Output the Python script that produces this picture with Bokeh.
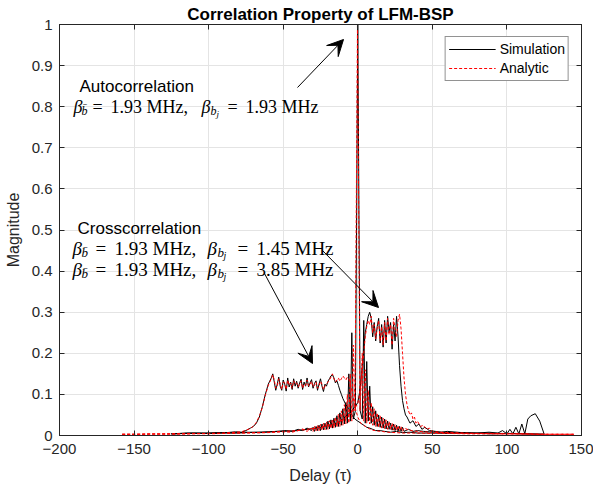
from bokeh.plotting import figure
from bokeh.models import (Range1d, FixedTicker, LinearAxis, Label, Arrow, VeeHead,
                          Legend, LegendItem)
from bokeh.embed import file_html
from bokeh.resources import INLINE

# ---------------- data ----------------
x_ticks = [-200, -150, -100, -50, 0, 50, 100, 150]
y_ticks = [0, 0.1, 0.2, 0.3, 0.4, 0.5, 0.6, 0.7, 0.8, 0.9, 1]
y_tick_labels = ["0", "0.1", "0.2", "0.3", "0.4", "0.5", "0.6", "0.7", "0.8", "0.9", "1"]

# Autocorrelation (b = 1.93 MHz, bj = 1.93 MHz)
ac_sim_tau = [-125, -115, -105, -95, -85, -75, -65, -55, -48, -44,
              -40, -37, -34, -31, -30, -29, -28, -27, -26, -25,
              -24, -23, -22, -21, -20, -19, -18, -17, -16, -15,
              -14, -13, -12, -11, -10, -9, -8, -7, -6, -5,
              -4, -3, -1.6, 0, 1.6, 3, 4, 5, 6, 7,
              8, 9, 10, 11, 12, 13, 14, 15, 16, 17,
              18, 19, 20, 21, 22, 23, 24, 25, 26, 27,
              28, 29, 30, 31, 34, 37, 40, 44, 48, 55,
              65, 75, 85, 95, 105, 115, 125]
ac_sim_val = [0.004, 0.006, 0.005, 0.007, 0.006, 0.008, 0.007, 0.010, 0.012, 0.010,
              0.015, 0.012, 0.018, 0.012, 0.020, 0.010, 0.022, 0.012, 0.025, 0.012,
              0.028, 0.014, 0.030, 0.015, 0.035, 0.016, 0.038, 0.018, 0.042, 0.020,
              0.048, 0.022, 0.055, 0.025, 0.065, 0.028, 0.080, 0.030, 0.150, 0.035,
              0.250, 0.040, 0.060, 1.000, 0.060, 0.040, 0.280, 0.030, 0.180, 0.035,
              0.120, 0.030, 0.070, 0.025, 0.060, 0.022, 0.050, 0.020, 0.045, 0.018,
              0.040, 0.016, 0.035, 0.015, 0.030, 0.013, 0.028, 0.012, 0.025, 0.011,
              0.022, 0.010, 0.020, 0.010, 0.015, 0.010, 0.012, 0.010, 0.009, 0.008,
              0.007, 0.006, 0.006, 0.005, 0.005, 0.004, 0.003]
ac_ana_tau = [-158, -150, -140, -130, -120, -110, -100, -90, -80, -70,
              -60, -50, -44, -40, -37, -34, -31, -30, -29, -28,
              -27, -26, -25, -24, -23, -22, -21, -20, -19, -18,
              -17, -16, -15, -14, -13, -12, -11, -10, -9, -8,
              -7, -6, -5, -4, -3, -1.9, -0.2, 1.5, 3, 4,
              5, 6, 7, 8, 9, 10, 11, 12, 13, 14,
              15, 16, 17, 18, 19, 20, 21, 22, 23, 24,
              25, 26, 27, 28, 29, 30, 31, 34, 37, 40,
              44, 48, 55, 65, 75, 85, 95, 105, 115, 125,
              135, 145]
ac_ana_val = [0.003, 0.003, 0.004, 0.003, 0.004, 0.005, 0.004, 0.005, 0.006, 0.006,
              0.007, 0.009, 0.008, 0.012, 0.016, 0.010, 0.018, 0.010, 0.022, 0.011,
              0.024, 0.012, 0.027, 0.013, 0.030, 0.014, 0.033, 0.015, 0.036, 0.017,
              0.040, 0.018, 0.045, 0.020, 0.052, 0.022, 0.060, 0.025, 0.075, 0.028,
              0.100, 0.030, 0.150, 0.035, 0.220, 0.060, 1.000, 0.060, 0.200, 0.035,
              0.160, 0.030, 0.110, 0.028, 0.080, 0.025, 0.065, 0.022, 0.055, 0.020,
              0.048, 0.018, 0.042, 0.016, 0.038, 0.015, 0.034, 0.014, 0.030, 0.013,
              0.027, 0.012, 0.024, 0.011, 0.022, 0.010, 0.018, 0.014, 0.011, 0.010,
              0.009, 0.008, 0.007, 0.006, 0.005, 0.005, 0.004, 0.004, 0.004, 0.003,
              0.003, 0.003]

# Crosscorrelation (b = 1.93 MHz, bj = 1.45 MHz)
cc1_sim_tau = [-125, -110, -100, -90, -80, -70, -60, -50, -40, -34,
               -28, -22, -18, -14, -10, -7, -4, -2, 0, 1,
               2, 3, 4, 5, 6, 7, 8, 9, 10, 11,
               12, 13, 14, 15, 16, 17, 18, 19, 20, 21,
               22, 23, 24, 25, 26, 27, 28, 29, 30, 31,
               32, 33, 35, 37, 39, 41, 43, 45, 48, 52,
               56, 60, 70, 80, 88, 94, 97, 100, 102, 104,
               106, 108, 110, 112, 114, 116, 119, 122, 125]
cc1_sim_val = [0.004, 0.006, 0.005, 0.007, 0.006, 0.008, 0.009, 0.010, 0.012, 0.015,
               0.018, 0.022, 0.026, 0.030, 0.040, 0.050, 0.060, 0.070, 0.080, 0.100,
               0.130, 0.170, 0.210, 0.250, 0.270, 0.290, 0.300, 0.285, 0.240, 0.275,
               0.230, 0.265, 0.285, 0.225, 0.270, 0.215, 0.280, 0.225, 0.290, 0.250,
               0.275, 0.210, 0.270, 0.230, 0.290, 0.240, 0.170, 0.120, 0.085, 0.065,
               0.050, 0.045, 0.030, 0.036, 0.022, 0.028, 0.015, 0.020, 0.012, 0.010,
               0.008, 0.010, 0.007, 0.006, 0.008, 0.006, 0.012, 0.004, 0.015, 0.004,
               0.020, 0.004, 0.028, 0.004, 0.040, 0.048, 0.053, 0.035, 0.003]
cc1_ana_tau = [-158, -145, -130, -115, -100, -90, -80, -70, -60, -50,
               -40, -34, -28, -22, -18, -14, -10, -7, -4, -2,
               0, 1, 2, 3, 4, 5, 6, 7, 8, 9,
               10, 11, 12, 13, 14, 15, 16, 17, 18, 19,
               20, 21, 22, 23, 24, 25, 26, 27, 28, 29,
               30, 31, 32, 33, 34, 35, 36, 37, 38, 39,
               40, 42, 44, 46, 48, 50, 55, 60, 70, 80,
               90, 100, 110, 120, 130, 145]
cc1_ana_val = [0.003, 0.003, 0.004, 0.004, 0.005, 0.005, 0.006, 0.007, 0.008, 0.010,
               0.012, 0.015, 0.018, 0.022, 0.026, 0.031, 0.038, 0.046, 0.056, 0.066,
               0.078, 0.095, 0.120, 0.160, 0.200, 0.240, 0.265, 0.280, 0.270, 0.290,
               0.250, 0.270, 0.235, 0.260, 0.280, 0.230, 0.265, 0.220, 0.275, 0.230,
               0.285, 0.245, 0.270, 0.220, 0.285, 0.260, 0.240, 0.280, 0.295, 0.260,
               0.200, 0.140, 0.100, 0.075, 0.060, 0.050, 0.055, 0.040, 0.045, 0.030,
               0.035, 0.022, 0.025, 0.015, 0.018, 0.010, 0.008, 0.007, 0.006, 0.005,
               0.005, 0.004, 0.004, 0.003, 0.003, 0.003]

# Crosscorrelation (b = 1.93 MHz, bj = 3.85 MHz)
cc2_sim_tau = [-125, -115, -105, -95, -88, -82, -78, -75, -72, -70,
               -68, -66, -64, -62, -60, -58, -57, -56, -55, -54,
               -53, -52, -51, -50, -49, -48, -47, -46, -45, -44,
               -43, -42, -41, -40, -39, -38, -37, -36, -35, -34,
               -33, -32, -31, -30, -29, -28, -27, -26, -25, -24,
               -23, -22, -21, -20, -19, -18, -17, -16, -15, -14,
               -13, -12, -11, -10, -8, -6, -4, -2, 0, 2,
               4, 6, 8, 10, 12, 15, 18, 22, 26, 30,
               35, 40, 50, 60, 70, 80, 90, 100, 110, 125]
cc2_sim_val = [0.004, 0.005, 0.006, 0.005, 0.007, 0.009, 0.008, 0.012, 0.018, 0.022,
               0.030, 0.045, 0.070, 0.100, 0.125, 0.140, 0.150, 0.130, 0.110, 0.125,
               0.142, 0.120, 0.110, 0.135, 0.125, 0.108, 0.140, 0.118, 0.130, 0.112,
               0.138, 0.120, 0.132, 0.115, 0.128, 0.137, 0.112, 0.130, 0.120, 0.140,
               0.118, 0.128, 0.136, 0.115, 0.127, 0.133, 0.110, 0.125, 0.138, 0.120,
               0.107, 0.125, 0.120, 0.132, 0.138, 0.145, 0.148, 0.140, 0.128, 0.133,
               0.122, 0.110, 0.100, 0.090, 0.075, 0.065, 0.050, 0.040, 0.035, 0.030,
               0.025, 0.020, 0.018, 0.015, 0.012, 0.012, 0.010, 0.008, 0.010, 0.007,
               0.008, 0.006, 0.006, 0.005, 0.006, 0.005, 0.004, 0.005, 0.004, 0.003]
cc2_ana_tau = [-158, -145, -130, -115, -100, -90, -82, -78, -75, -72,
               -70, -68, -66, -64, -62, -60, -58, -57, -56, -55,
               -54, -53, -52, -51, -50, -49, -48, -47, -46, -45,
               -44, -43, -42, -41, -40, -39, -38, -37, -36, -35,
               -34, -33, -32, -31, -30, -29, -28, -27, -26, -25,
               -24, -23, -22, -21, -20, -19, -18, -17, -16, -15,
               -14, -13, -12, -11, -10, -9, -8, -7, -6, -4,
               -2, 0, 2, 4, 6, 8, 10, 13, 16, 20,
               25, 30, 40, 50, 60, 75, 90, 105, 120, 145]
cc2_ana_val = [0.003, 0.003, 0.004, 0.004, 0.005, 0.006, 0.008, 0.009, 0.013, 0.017,
               0.023, 0.032, 0.047, 0.068, 0.098, 0.122, 0.138, 0.148, 0.135, 0.115,
               0.120, 0.138, 0.125, 0.112, 0.130, 0.128, 0.112, 0.135, 0.122, 0.128,
               0.115, 0.133, 0.125, 0.128, 0.118, 0.125, 0.133, 0.115, 0.125, 0.122,
               0.135, 0.120, 0.125, 0.132, 0.118, 0.122, 0.130, 0.115, 0.120, 0.132,
               0.125, 0.112, 0.120, 0.125, 0.130, 0.135, 0.142, 0.150, 0.138, 0.130,
               0.135, 0.140, 0.132, 0.138, 0.145, 0.140, 0.135, 0.142, 0.138, 0.110,
               0.070, 0.045, 0.030, 0.025, 0.020, 0.016, 0.013, 0.011, 0.010, 0.008,
               0.007, 0.006, 0.006, 0.005, 0.005, 0.004, 0.004, 0.004, 0.003, 0.003]

series_names = ["Simulation", "Analytic"]

# ---------------- figure ----------------
SANS = "Liberation Sans"
SERIF = "Liberation Serif"
AXC = "#262626"

p = figure(width=593, height=489, output_backend="svg", toolbar_location=None,
           x_range=Range1d(-200, 150), y_range=Range1d(0, 1),
           min_border_left=59, min_border_right=12, min_border_top=24, min_border_bottom=54,
           title="Correlation Property of LFM-BSP")
p.title.text_font = SANS
p.title.text_font_size = "17px"
p.title.text_font_style = "bold"
p.title.text_color = "#000000"
p.title.align = "center"
p.title.standoff = 2
p.outline_line_color = AXC
p.background_fill_color = "white"
p.border_fill_color = "white"

for ax in (p.xaxis[0], p.yaxis[0]):
    ax.major_tick_in = 5
    ax.major_tick_out = 0
    ax.minor_tick_line_color = None
    ax.axis_line_color = AXC
    ax.major_tick_line_color = AXC
    ax.major_label_text_font = SANS
    ax.major_label_text_font_size = "15px"
    ax.major_label_text_color = AXC
    ax.axis_label_text_font = SANS
    ax.axis_label_text_font_size = "16px"
    ax.axis_label_text_font_style = "normal"
    ax.axis_label_text_color = AXC

p.xaxis.ticker = FixedTicker(ticks=x_ticks)
p.yaxis.ticker = FixedTicker(ticks=y_ticks)
p.yaxis.major_label_overrides = {t: s for t, s in zip(y_ticks, y_tick_labels)}
p.xaxis.axis_label = "Delay (\u03c4)"
p.yaxis.axis_label = "Magnitude"
p.xaxis.major_label_standoff = 8
p.yaxis.major_label_standoff = 7
p.xaxis.axis_label_standoff = 10
p.yaxis.axis_label_standoff = 7

for loc, ticks in (("right", y_ticks), ("above", x_ticks)):
    a = LinearAxis(ticker=FixedTicker(ticks=ticks), major_tick_in=5, major_tick_out=0,
                   minor_tick_line_color=None, axis_line_color=AXC,
                   major_tick_line_color=AXC, major_label_standoff=0,
                   major_label_overrides={t: "" for t in ticks},
                   major_label_text_font_size="1px")
    p.add_layout(a, loc)

p.xgrid.grid_line_color = "#e4e4e4"
p.ygrid.grid_line_color = "#e4e4e4"

# ---------------- curves ----------------
BLACK = "#000000"
RED = "#ff0000"
sims = [(ac_sim_tau, ac_sim_val), (cc1_sim_tau, cc1_sim_val), (cc2_sim_tau, cc2_sim_val)]
anas = [(ac_ana_tau, ac_ana_val), (cc1_ana_tau, cc1_ana_val), (cc2_ana_tau, cc2_ana_val)]
sim_r = [p.line(t, v, line_color=BLACK, line_width=1) for t, v in sims]
ana_r = [p.line(t, v, line_color=RED, line_width=1, line_dash="3 2") for t, v in anas]

legend = Legend(items=[LegendItem(label=series_names[0], renderers=[sim_r[0]]),
                       LegendItem(label=series_names[1], renderers=[ana_r[0]])],
                location="top_right", margin=12, padding=3, spacing=1,
                glyph_width=47, glyph_height=18, label_height=18, label_standoff=4,
                label_text_font=SANS, label_text_font_size="14px", label_text_color="#000000",
                border_line_color=AXC, border_line_width=1, background_fill_alpha=1)
p.add_layout(legend)

# ---------------- annotations ----------------
def X(px):
    return (px - 59) * 350.0 / 522.0 - 200.0

def Y(py):
    return (435.0 - py) / 411.0

def txt(px, py, s, size, font=SANS, style="normal"):
    p.add_layout(Label(x=X(px), y=Y(py), text=s, text_font=font, text_font_size=size,
                       text_font_style=style, text_color="#000000",
                       text_baseline="alphabetic", text_align="left"))

def math_line(base, v1, v2, fs, pos):
    b1, s1, e1, n1, b2, s2, j2, e2, n2 = pos
    small = "%dpx" % round(fs * 0.68)
    tiny = "%dpx" % round(fs * 0.5)
    big = "%dpx" % fs
    txt(b1, base, "\u03b2", big, SERIF, "italic")
    txt(s1, base + 4, "b\u0304", small, SERIF, "italic")
    txt(e1, base, "=", big, SERIF)
    txt(n1, base, v1 + " MHz,", big, SERIF)
    txt(b2, base, "\u03b2", big, SERIF, "italic")
    txt(s2, base + 4, "b", small, SERIF, "italic")
    txt(j2, base + 7, "j", tiny, SERIF, "italic")
    txt(e2, base, "=", big, SERIF)
    txt(n2, base, v2 + " MHz", big, SERIF)

txt(79, 86, "Autocorrelation", "17px")
math_line(106, "1.93", "1.93", 18, (73, 81, 92, 110, 201, 210, 216, 227, 245))
txt(77, 228, "Crosscorrelation", "17px")
math_line(248, "1.93", "1.45", 19, (72, 81, 95, 114, 207, 217, 223, 237, 256))
math_line(269, "1.93", "3.85", 19, (72, 81, 95, 114, 207, 217, 223, 237, 256))

for (x0, y0, x1, y1) in [(297, 87, 343, 39), (322, 250, 378, 307), (264, 273, 312, 363)]:
    p.add_layout(Arrow(x_start=X(x0), y_start=Y(y0), x_end=X(x1), y_end=Y(y1),
                       line_color="#000000", line_width=1,
                       end=VeeHead(size=16, fill_color="#000000", line_color="#000000")))

open("out.html", "w").write(file_html(p, INLINE))
